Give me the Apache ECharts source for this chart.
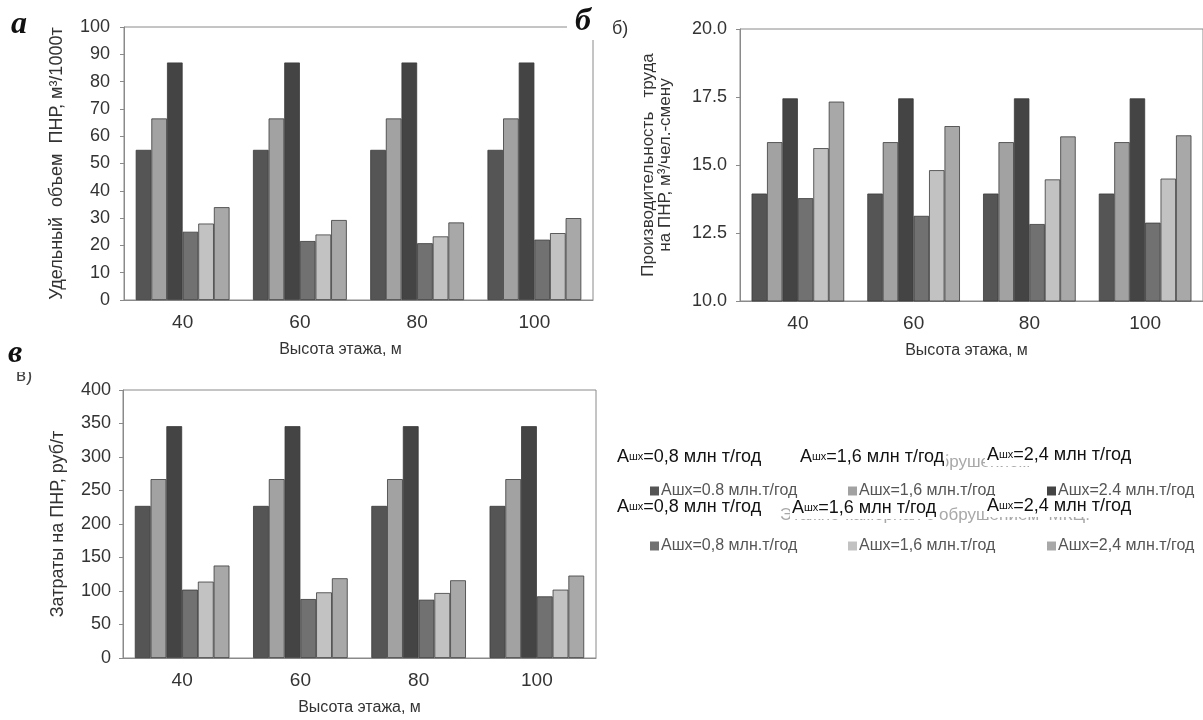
<!DOCTYPE html>
<html>
<head>
<meta charset="utf-8">
<script src="https://cdn.jsdelivr.net/npm/echarts@6/dist/echarts.min.js"></script>
<style>
  html, body { margin: 0; padding: 0; background: #fff; }
  #chart { width: 1203px; height: 720px; }
</style>
</head>
<body>
<div id="chart"></div>
<script>
// floor height categories (shared by all three panels)
const heights = ['40', '60', '80', '100'];

// series names as shown in the two legends
const seriesNames = [
  'Aшх=0.8 млн.т/год',
  'Aшх=1,6 млн.т/год',
  'Aшх=2.4 млн.т/год',
  'Aшх=0,8 млн.т/год',
  'Aшх=1,6 млн.т/год ',
  'Aшх=2,4 млн.т/год'
];
const seriesColors = ['#555555', '#a2a2a2', '#444444', '#717171', '#c2c2c2', '#a8a8a8'];

// panel а: specific volume, m3/1000t
const volA1 = [55, 55, 55, 55];
const volA2 = [66.5, 66.5, 66.5, 66.5];
const volA3 = [87, 87, 87, 87];
const volA4 = [25, 21.6, 20.8, 22.1];
const volA5 = [28, 24, 23.3, 24.5];
const volA6 = [34, 29.3, 28.4, 30];

// panel б: labour productivity, m3/man-shift
const prodB1 = [13.95, 13.95, 13.95, 13.95];
const prodB2 = [15.84, 15.84, 15.84, 15.84];
const prodB3 = [17.45, 17.45, 17.45, 17.45];
const prodB4 = [13.78, 13.13, 12.83, 12.88];
const prodB5 = [15.62, 14.81, 14.47, 14.5];
const prodB6 = [17.33, 16.43, 16.05, 16.09];

// panel в: costs, rub/t
const costC1 = [227, 227, 227, 227];
const costC2 = [267, 267, 267, 267];
const costC3 = [346, 346, 346, 346];
const costC4 = [102, 88, 87, 92];
const costC5 = [114, 98, 97, 102];
const costC6 = [138, 119, 116, 123];

const chart = echarts.init(document.getElementById('chart'));

const font = '"Liberation Sans", Arial, sans-serif';
const axisGray = '#8a8a8a';
const labelColor = '#333';

function makeSeries(gridIdx, sets) {
  return sets.map((data, i) => ({
    type: 'bar',
    name: seriesNames[i],
    xAxisIndex: gridIdx,
    yAxisIndex: gridIdx,
    data: data,
    barGap: '0%',
    barCategoryGap: '20%',
    itemStyle: { color: seriesColors[i], borderColor: '#3a3a3a', borderWidth: 0.8 },
    emphasis: { disabled: true }
  }));
}

function xAxisFor(gridIdx, namePad) {
  return {
    type: 'category',
    gridIndex: gridIdx,
    data: heights,
    axisLine: { lineStyle: { color: axisGray } },
    axisTick: { length: 5, lineStyle: { color: axisGray } },
    axisLabel: { fontSize: 19, color: labelColor, fontFamily: font, margin: 13 },
    name: 'Высота этажа, м',
    nameLocation: 'middle',
    nameGap: 42,
    nameTextStyle: { fontSize: 16, color: labelColor, fontFamily: font, padding: namePad }
  };
}

function yAxisFor(gridIdx, opts) {
  return Object.assign({
    type: 'value',
    gridIndex: gridIdx,
    splitLine: { show: false },
    axisLine: { show: true, lineStyle: { color: axisGray } },
    axisTick: { show: true, length: 4, lineStyle: { color: axisGray } },
    nameLocation: 'middle',
    nameRotate: 90
  }, opts);
}

function bigLabel(x, y, value) {
  return {
    type: 'text',
    left: x,
    top: y,
    z: 20,
    style: {
      text: '{a|A}{s|шх}{a|=' + value + ' млн т/год}',
      backgroundColor: '#fff',
      padding: [1, 2, 2, 2],
      rich: {
        a: { fontSize: 18, fontFamily: font, fill: '#111' },
        s: { fontSize: 11, fontFamily: font, fill: '#111' }
      }
    }
  };
}

const legendLefts = [650, 848, 1047, 650, 848, 1047];
const legendTops = [483, 483, 483, 538, 538, 538];

const option = {
  backgroundColor: '#fff',
  animation: false,
  grid: [
    { left: 124, top: 27, width: 469, height: 273, show: true, borderColor: axisGray, borderWidth: 1 },
    { left: 740, top: 29, width: 471, height: 272, show: true, borderColor: axisGray, borderWidth: 1 },
    { left: 123, top: 390, width: 473, height: 268, show: true, borderColor: axisGray, borderWidth: 1 }
  ],
  xAxis: [
    xAxisFor(0, [0, 36, 0, 0]),
    xAxisFor(1, [0, 10, 0, 0]),
    xAxisFor(2, [0, 0, 0, 0])
  ],
  yAxis: [
    yAxisFor(0, {
      min: 0, max: 100, interval: 10,
      axisLabel: { fontSize: 18, color: labelColor, fontFamily: font, margin: 14 },
      name: 'Удельный  объем  ПНР, м³/1000т',
      nameGap: 58,
      nameTextStyle: { fontSize: 18, color: labelColor, fontFamily: font }
    }),
    yAxisFor(1, {
      min: 10, max: 20, interval: 2.5,
      axisLabel: { fontSize: 18, color: labelColor, fontFamily: font, margin: 13,
        formatter: v => v.toFixed(1) },
      name: 'Производительность   труда\nна ПНР, м³/чел.-смену',
      nameGap: 66,
      nameTextStyle: { fontSize: 17, color: labelColor, fontFamily: font, lineHeight: 17 }
    }),
    yAxisFor(2, {
      min: 0, max: 400, interval: 50,
      axisLabel: { fontSize: 18, color: labelColor, fontFamily: font, margin: 12 },
      name: 'Затраты на ПНР, руб/т',
      nameGap: 56,
      nameTextStyle: { fontSize: 18, color: labelColor, fontFamily: font }
    })
  ],
  legend: seriesNames.map((n, i) => ({
    data: [n],
    left: legendLefts[i],
    top: legendTops[i],
    padding: 0,
    itemWidth: 9,
    itemHeight: 9,
    icon: 'rect',
    selectedMode: false,
    itemStyle: { borderWidth: 0 },
    textStyle: { fontSize: 16, color: '#555', fontFamily: font, padding: [0, 0, 0, -3] }
  })),
  series: [].concat(
    makeSeries(0, [volA1, volA2, volA3, volA4, volA5, volA6]),
    makeSeries(1, [prodB1, prodB2, prodB3, prodB4, prodB5, prodB6]),
    makeSeries(2, [costC1, costC2, costC3, costC4, costC5, costC6])
  ),
  graphic: [
    // faint overlapped caption text behind the legend labels
    { type: 'text', left: 930, top: 454, z: 5,
      style: { text: 'обрушением', fontSize: 17, fontFamily: font, fill: '#a8a8a8' } },
    { type: 'text', left: 780, top: 507, z: 5,
      style: { text: 'Этажно-камерная с обрушением  МКЦ.', fontSize: 17, fontFamily: font, fill: '#a8a8a8' } },
    bigLabel(615, 447, '0,8'),
    bigLabel(798, 447, '1,6'),
    bigLabel(985, 445, '2,4'),
    bigLabel(615, 497, '0,8'),
    bigLabel(790, 498, '1,6'),
    bigLabel(985, 496, '2,4'),
    // panel letters
    { type: 'rect', left: 567, top: 0, z: 30, shape: { width: 32, height: 40 }, style: { fill: '#fff' } },
    { type: 'text', left: 11, top: 9, z: 31,
      style: { text: 'а', fontSize: 32, fontWeight: 'bold', fontStyle: 'italic', fontFamily: '"Liberation Serif", serif', fill: '#111' } },
    { type: 'text', left: 575, top: 6, z: 31,
      style: { text: 'б', fontSize: 32, fontWeight: 'bold', fontStyle: 'italic', fontFamily: '"Liberation Serif", serif', fill: '#111' } },
    { type: 'text', left: 8, top: 338, z: 31,
      style: { text: 'в', fontSize: 32, fontWeight: 'bold', fontStyle: 'italic', fontFamily: '"Liberation Serif", serif', fill: '#111' } },
    { type: 'text', left: 612, top: 20, z: 31,
      style: { text: 'б)', fontSize: 18, fontFamily: font, fill: '#333' } },
    { type: 'text', left: 16, top: 366, z: 29,
      style: { text: 'в)', fontSize: 19, fontFamily: font, fill: '#444' } },
    { type: 'rect', left: 12, top: 360, z: 30, shape: { width: 28, height: 12 }, style: { fill: '#fff' } }
  ]
};

chart.setOption(option);
</script>
</body>
</html>
